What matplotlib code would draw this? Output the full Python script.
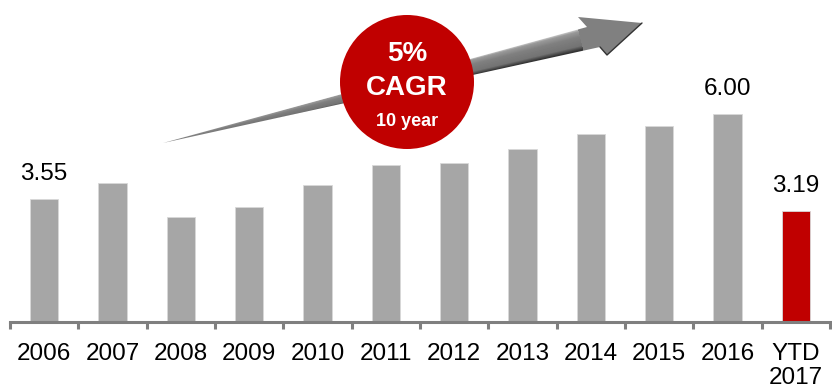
import numpy as np
import matplotlib
matplotlib.use("Agg")
import matplotlib.pyplot as plt
from matplotlib.patches import Polygon, Circle

plt.rcParams['font.family'] = ['Liberation Sans', 'DejaVu Sans']

# data
years = ['2006', '2007', '2008', '2009', '2010', '2011', '2012', '2013',
         '2014', '2015', '2016', 'YTD\n2017']
values = [3.55, 4.01, 3.03, 3.32, 3.94, 4.52, 4.59, 4.99, 5.42, 5.66, 6.00, 3.19]
shown_labels = ['3.55', '', '', '', '', '', '', '', '', '', '6.00', '3.19']
colors = ['#a6a6a6'] * 11 + ['#c00000']

W, H = 832, 389
fig = plt.figure(figsize=(W / 100, H / 100), dpi=100)
ax = fig.add_axes([10 / W, (H - 322) / H, 820 / W, 322 / H])

x = np.arange(len(years))
ax.bar(x, values, width=0.41, color=colors, edgecolor='#d9d9d9', linewidth=0.6, zorder=2)
ax.set_xlim(-0.5, len(years) - 0.5)
ax.set_ylim(0, 322 / 34.7)

for xi, v, lab in zip(x, values, shown_labels):
    if lab:
        ax.annotate(lab, (xi, v), xytext=(0, 18), textcoords='offset points',
                    ha='center', va='center', fontsize=17.5, color='black')

for s in ['top', 'left', 'right']:
    ax.spines[s].set_visible(False)
ax.spines['bottom'].set_color('#7f7f7f')
ax.spines['bottom'].set_linewidth(2.2)
ax.set_yticks([])

ax.set_xticks(x)
ax.set_xticklabels(years, fontsize=17.5, linespacing=1.1)
ax.tick_params(axis='x', which='major', length=0, pad=15)
ax.set_xticks(np.arange(-0.5, len(years)), minor=True)
ax.tick_params(axis='x', which='minor', length=5, width=2.2, color='#7f7f7f', direction='out')

# overlay in pixel coordinates for the CAGR arrow and badge
ov = fig.add_axes([0, 0, 1, 1], zorder=5)
ov.set_xlim(0, W)
ov.set_ylim(H, 0)
ov.axis('off')

pts = [(163, 143), (587, 27), (578, 17), (642, 23), (607, 55), (600, 47)]
arrow = Polygon(pts, closed=True, facecolor='none', edgecolor='none')
ov.add_patch(arrow)

# shading across the shaft: light top edge, dark bottom edge; head mostly flat grey
gx, gy = np.meshgrid(np.arange(150, 660), np.arange(10, 150))
d = np.array([479.0, -120.0])
d /= np.linalg.norm(d)
nrm = np.array([-d[1], d[0]])
dist = (gx - 163) * nrm[0] + (gy - 143) * nrm[1]
along = (gx - 163) * d[0] + (gy - 143) * d[1]
half = 2 + 9 * np.clip(along / 430, 0, 1)
t = np.clip(dist / half, -1, 1)
shade = np.interp(t, [-1, -0.7, -0.2, 0.6, 1], [0.88, 0.6, 0.5, 0.45, 0.2])
shade = np.where(along > 430, 0.5, shade)
img = ov.imshow(shade, extent=(150, 660, 150, 10), cmap='gray', vmin=0, vmax=1,
                interpolation='bilinear', zorder=3)
img.set_clip_path(arrow)
ov.plot([642, 607, 600], [23, 55, 47], color='#333333', lw=1.0, zorder=3.5,
        solid_capstyle='round')

ov.add_patch(Circle((407, 82), 67, facecolor='#c00000', edgecolor='none', zorder=4))
ov.text(407, 54, '5%', color='white', fontsize=20, fontweight='bold',
        ha='center', va='center', zorder=5)
ov.text(407, 88, 'CAGR', color='white', fontsize=20, fontweight='bold',
        ha='center', va='center', zorder=5)
ov.text(407, 121, '10 year', color='white', fontsize=13, fontweight='bold',
        ha='center', va='center', zorder=5)

fig.savefig('out.png', dpi=100)
